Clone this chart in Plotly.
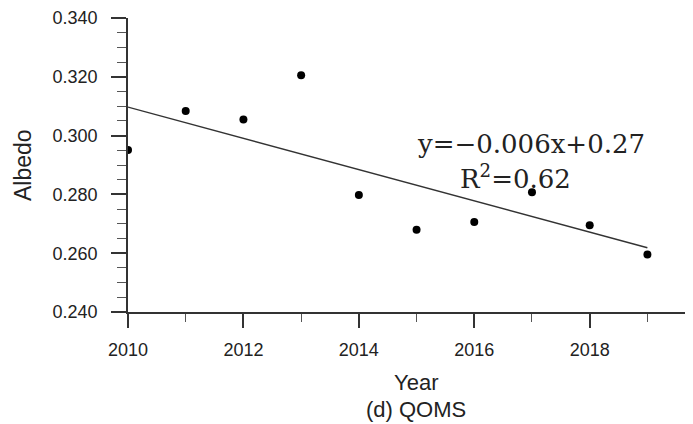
import numpy as np
import plotly.graph_objects as go

years = [2010, 2011, 2012, 2013, 2014, 2015, 2016, 2017, 2018, 2019]
albedo = [0.2951, 0.3084, 0.3055, 0.3205, 0.2798, 0.2680, 0.2706, 0.2807, 0.2695, 0.2596]
y_ticks = [0.240, 0.260, 0.280, 0.300, 0.320, 0.340]
x_ticks = [2010, 2012, 2014, 2016, 2018]
eq_text = "y=\u22120.006x+0.27"
r2_text = "R<sup>2</sup>=0.62"
x_title = "Year"
y_title = "Albedo"
caption = "(d) QOMS"

slope, intercept = np.polyfit(years, albedo, 1)
fit_x = [years[0], years[-1]]
fit_y = [slope * v + intercept for v in fit_x]

# page body has an 8px margin; compensate so the plot lands where the reference has it
OFF = 8
W, H = 693 - OFF, 424 - OFF
ML, MR, MT, MB = 128 - OFF, 0, 18 - OFF, 112
PW = W - ML - MR
PH = H - MT - MB
TXT = "#222222"

fig = go.Figure()
fig.add_trace(go.Scatter(x=fit_x, y=fit_y, mode="lines",
                         line=dict(color="#333333", width=1.4),
                         showlegend=False, hoverinfo="skip"))
fig.add_trace(go.Scatter(x=years, y=albedo, mode="markers",
                         marker=dict(color="black", size=8),
                         showlegend=False))

fig.update_xaxes(range=[2010, 2019.79], tickvals=x_ticks,
                 ticktext=[str(v) for v in x_ticks],
                 ticks="outside", ticklen=14, tickwidth=1.5, tickcolor="#333",
                 showline=True, linecolor="#333", linewidth=1.8,
                 showgrid=False, zeroline=False,
                 minor=dict(dtick=1, ticks="outside", ticklen=8, tickwidth=1.2, tickcolor="#555", showgrid=False),
                 tickfont=dict(family="Liberation Sans, Arial", size=18, color=TXT),
                 ticklabelstandoff=6)
fig.update_yaxes(range=[0.24, 0.34], tickvals=y_ticks,
                 ticktext=[f"{v:.3f}" for v in y_ticks],
                 ticks="outside", ticklen=15, tickwidth=1.5, tickcolor="#333",
                 showline=True, linecolor="#333", linewidth=1.8,
                 showgrid=False, zeroline=False,
                 minor=dict(dtick=0.005, tick0=0.24, ticks="outside", ticklen=9, tickwidth=1.2, tickcolor="#555", showgrid=False),
                 tickfont=dict(family="Liberation Sans, Arial", size=18, color=TXT),
                 ticklabelstandoff=10)

ann_font = dict(family="Liberation Sans, Arial", size=23, color=TXT)
cap_font = dict(family="Liberation Sans, Arial", size=22, color=TXT)
eq_font = dict(family="DejaVu Serif", size=26, color=TXT)
fig.add_annotation(text=eq_text, x=2016.98, y=0.2971, xref="x", yref="y",
                   showarrow=False, font=eq_font)
fig.add_annotation(text=r2_text, x=2016.71, y=0.2859, xref="x", yref="y",
                   showarrow=False, font=eq_font)
fig.add_annotation(text=x_title, x=(416 - 128) / PW, y=0, xref="paper", yref="paper",
                   yshift=-70, yanchor="middle", showarrow=False, font=cap_font, borderpad=0)
fig.add_annotation(text=caption, x=(416 - 128) / PW, y=0, xref="paper", yref="paper",
                   yshift=-97, yanchor="middle", showarrow=False, font=cap_font, borderpad=0)
fig.add_annotation(text=y_title, x=0, y=(312 - 165) / PH, xref="paper", yref="paper",
                   xshift=23 - 128, xanchor="center", yanchor="middle", textangle=-90,
                   showarrow=False, font=ann_font)

fig.update_layout(width=W, height=H, margin=dict(l=ML, r=MR, t=MT, b=MB),
                  plot_bgcolor="white", paper_bgcolor="white")
fig.write_html("out.html")
